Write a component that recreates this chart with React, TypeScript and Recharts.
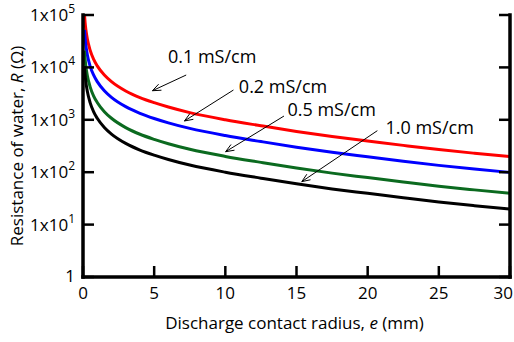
import { LineChart, Line, XAxis, YAxis, ReferenceLine, Label } from "recharts";

// discharge contact radius e (mm)
const eValues = [0.1, 0.15, 0.2, 0.3, 0.5, 0.75, 1, 1.5, 2, 3, 4, 5, 6, 7.5, 10, 12.5, 15, 17.5, 20, 22.5, 25, 27.5, 30];

// resistance R (ohm)
const r01 = [105000, 71000, 53000, 35500, 21300, 14200, 10700, 7150, 5350, 3550, 2650, 2120, 1750, 1370, 1000, 770, 600, 480, 395, 325, 270, 230, 198];
const r02 = [52000, 35500, 26500, 17700, 10600, 7100, 5350, 3580, 2680, 1780, 1330, 1060, 875, 685, 500, 385, 300, 240, 197, 162, 135, 115, 99];
const r05 = [21000, 14200, 10600, 7100, 4260, 2840, 2140, 1430, 1070, 710, 530, 424, 350, 274, 200, 154, 120, 96, 79, 65, 54, 46, 39.5];
const r10 = [10500, 7100, 5300, 3550, 2130, 1420, 1070, 715, 535, 355, 265, 212, 175, 137, 100, 77, 60, 48, 39.5, 32.5, 27, 23, 19.8];

const xTicks = [0, 5, 10, 15, 20, 25, 30];
const yTicks = [1, 10, 100, 1000, 10000, 100000];

const series = [
  { key: "r01", color: "#ff0000" },
  { key: "r02", color: "#0000ff" },
  { key: "r05", color: "#0b6a1f" },
  { key: "r10", color: "#000000" },
];

// annotation text + arrow (tail -> head), in data units
const notes = [
  { text: "0.1 mS/cm", tx: 5.97, ty: 15800, x1: 7.25, y1: 7160, x2: 4.88, y2: 3590 },
  { text: "0.2 mS/cm", tx: 10.95, ty: 4230, x1: 10.57, y1: 3700, x2: 7.13, y2: 950 },
  { text: "0.5 mS/cm", tx: 14.36, ty: 1540, x1: 14.12, y1: 1180, x2: 10.02, y2: 246 },
  { text: "1.0 mS/cm", tx: 21.25, ty: 698, x1: 20.68, y1: 620, x2: 15.37, y2: 66 },
];

const data = eValues.map((e, i) => ({ e, r01: r01[i], r02: r02[i], r05: r05[i], r10: r10[i] }));

const FONT = "'Open Sans', sans-serif";
const TICK = 11;

const BottomTick = (props: any) => {
  const { x, y, payload } = props;
  const base = y - 6;
  // last label sits at the page edge, anchor it from the right
  const last = Number(payload.value) === xTicks[xTicks.length - 1];
  return (
    <g>
      <line x1={x} x2={x} y1={base} y2={base - TICK} stroke="#000" strokeWidth={2.5} />
      <text
        x={last ? x + 3 : x}
        y={y + 16}
        textAnchor={last ? "end" : "middle"}
        fontSize={17}
        fontFamily={FONT}
        fill="#000"
      >
        {payload.value}
      </text>
    </g>
  );
};

const TopTick = (props: any) => {
  const { x, y } = props;
  return <line x1={x} x2={x} y1={y} y2={y + TICK} stroke="#000" strokeWidth={2.5} />;
};

const LeftTick = (props: any) => {
  const { x, y, payload } = props;
  const ax = x + 8;
  const v = payload.value;
  const exp = Math.round(Math.log10(v));
  return (
    <g>
      <line x1={ax} x2={ax + TICK} y1={y} y2={y} stroke="#000" strokeWidth={2.5} />
      {v === 1 ? (
        <text x={x} y={y + 5} textAnchor="end" fontSize={17} fontFamily={FONT} fill="#000">
          1
        </text>
      ) : (
        <text x={x} y={y + 6} textAnchor="end" fontSize={17} fontFamily={FONT} fill="#000">
          1x10
          <tspan fontSize={12} dy={-8}>
            {exp}
          </tspan>
        </text>
      )}
    </g>
  );
};

const RightTick = (props: any) => {
  const { x, y } = props;
  return <line x1={x} x2={x - TICK} y1={y} y2={y} stroke="#000" strokeWidth={2.5} />;
};

const Arrow = (props: any) => {
  const { x1, y1, x2, y2 } = props;
  const ang = Math.atan2(y2 - y1, x2 - x1);
  const len = 9;
  const spread = 0.38;
  const p1 = [x2 - len * Math.cos(ang - spread), y2 - len * Math.sin(ang - spread)];
  const p2 = [x2 - len * Math.cos(ang + spread), y2 - len * Math.sin(ang + spread)];
  return (
    <g>
      <line x1={x1} y1={y1} x2={x2} y2={y2} stroke="#000" strokeWidth={1} />
      <path d={`M${p1[0]},${p1[1]} L${x2},${y2} L${p2[0]},${p2[1]}`} fill="none" stroke="#000" strokeWidth={1} />
    </g>
  );
};

const NoteText = (props: any) => {
  const { viewBox, value } = props;
  return (
    <text x={viewBox.x} y={viewBox.y} dy={6} fontSize={18} fontFamily={FONT} fill="#000">
      {value}
    </text>
  );
};

const XTitle = (props: any) => {
  const { viewBox } = props;
  return (
    <text x={viewBox.x + viewBox.width / 2 - 2} y={329} textAnchor="middle" fontSize={17} fontFamily={FONT} fill="#000">
      Discharge contact radius, <tspan fontStyle="italic">e</tspan> (mm)
    </text>
  );
};

const YTitle = (props: any) => {
  const { viewBox } = props;
  const cx = 23;
  const cy = viewBox.y + viewBox.height / 2;
  return (
    <text x={cx} y={cy} transform={`rotate(-90 ${cx} ${cy})`} textAnchor="middle" fontSize={17} fontFamily={FONT} fill="#000">
      Resistance of water, <tspan fontStyle="italic">R</tspan> (Ω)
    </text>
  );
};

export default function App() {
  const axisLine = { stroke: "#000", strokeWidth: 3.5, strokeLinecap: "square" as const };
  return (
    <div style={{ position: "absolute", left: 0, top: 0, width: 514, height: 342, background: "#fff" }}>
      <LineChart width={514} height={342} data={data} margin={{ top: 15, right: 0, bottom: 0, left: 0 }}>
        <XAxis
          xAxisId="b"
          dataKey="e"
          type="number"
          domain={[0, 30]}
          ticks={xTicks}
          interval={0}
          height={65}
          tickSize={0}
          tickMargin={6}
          tickLine={false}
          axisLine={axisLine}
          tick={<BottomTick />}
        >
          <Label content={<XTitle />} />
        </XAxis>
        <XAxis
          xAxisId="t"
          orientation="top"
          dataKey="e"
          type="number"
          domain={[0, 30]}
          ticks={xTicks}
          interval={0}
          height={0}
          tickSize={0}
          tickMargin={0}
          tickLine={false}
          axisLine={axisLine}
          tick={<TopTick />}
        />
        <YAxis
          yAxisId="l"
          scale="log"
          type="number"
          domain={[1, 100000]}
          allowDataOverflow
          ticks={yTicks}
          interval={0}
          width={83}
          tickSize={0}
          tickMargin={8}
          tickLine={false}
          axisLine={axisLine}
          tick={<LeftTick />}
        >
          <Label content={<YTitle />} />
        </YAxis>
        <YAxis
          yAxisId="r"
          orientation="right"
          scale="log"
          type="number"
          domain={[1, 100000]}
          allowDataOverflow
          ticks={yTicks}
          interval={0}
          width={4}
          tickSize={0}
          tickMargin={0}
          tickLine={false}
          axisLine={axisLine}
          tick={<RightTick />}
        />
        {series.map((s) => (
          <Line
            key={s.key}
            xAxisId="b"
            yAxisId="l"
            dataKey={s.key}
            type="monotone"
            stroke={s.color}
            strokeWidth={3}
            dot={false}
            isAnimationActive={false}
          />
        ))}
        {notes.map((n) => (
          <ReferenceLine
            key={n.text}
            xAxisId="b"
            yAxisId="l"
            segment={[
              { x: n.x1, y: n.y1 },
              { x: n.x2, y: n.y2 },
            ]}
            shape={<Arrow />}
            ifOverflow="visible"
          />
        ))}
        {notes.map((n) => (
          <ReferenceLine
            key={n.text + "-t"}
            xAxisId="b"
            yAxisId="l"
            segment={[
              { x: n.tx, y: n.ty },
              { x: n.tx, y: n.ty },
            ]}
            stroke="none"
            ifOverflow="visible"
            label={<Label content={<NoteText />} value={n.text} position="start" />}
          />
        ))}
      </LineChart>
    </div>
  );
}
